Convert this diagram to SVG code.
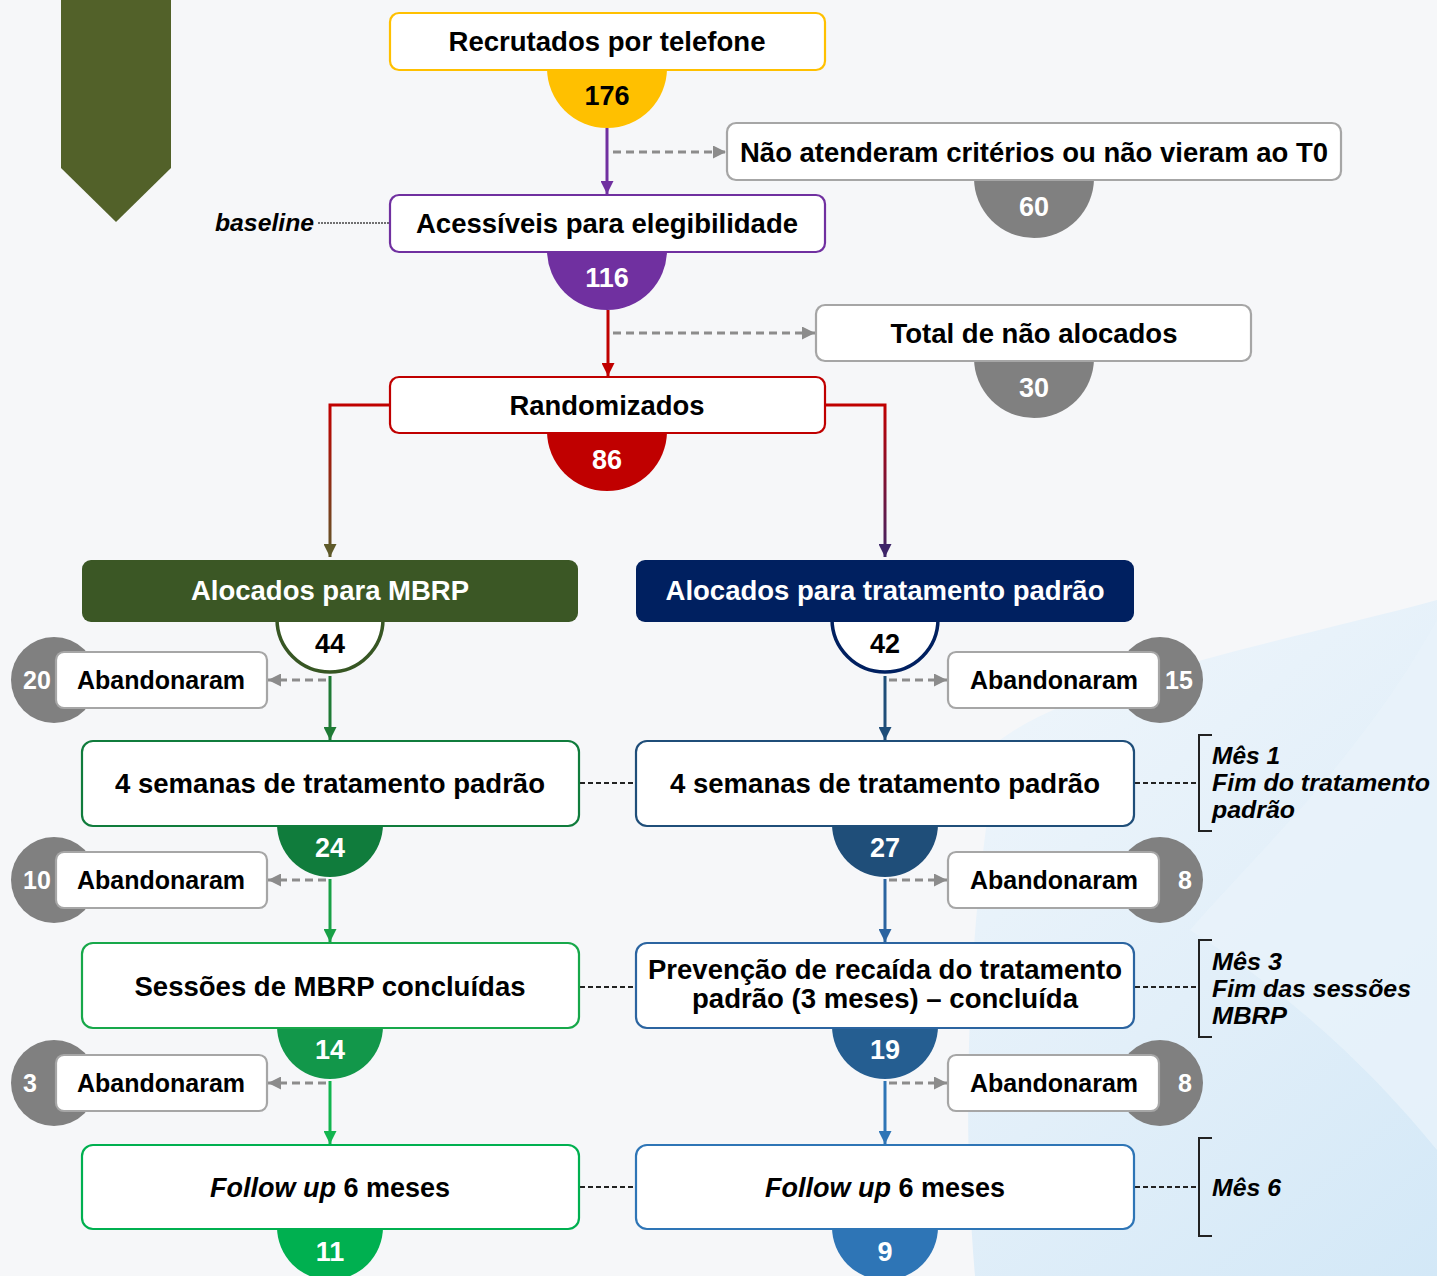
<svg xmlns="http://www.w3.org/2000/svg" width="1437" height="1276" viewBox="0 0 1437 1276">
<style>
text{font-family:"Liberation Sans",Arial,sans-serif;font-weight:bold;fill:#000;}
.lbl{font-size:27px;text-anchor:middle;}
.w{fill:#fff;}
.num{font-size:27px;text-anchor:middle;}
.ab{font-size:25px;text-anchor:middle;}
.note{font-size:24px;font-style:italic;}
.box{fill:#fff;stroke-width:2.2;}
.gbox{fill:#fff;stroke:#a6a6a6;stroke-width:2.2;}
.gc{fill:#808080;}
.dash{fill:none;stroke:#8c8c8c;stroke-width:3;stroke-dasharray:8 5;}
.bdash{fill:none;stroke:#222;stroke-width:1.8;stroke-dasharray:5 3;}
.brk{fill:none;stroke:#222;stroke-width:2;}
</style>
<defs>
<marker id="mP" viewBox="0 0 10 10" refX="10" refY="5" markerUnits="userSpaceOnUse" markerWidth="13" markerHeight="13" orient="auto"><path d="M0,0 L10,5 L0,10 z" fill="#7030a0"/></marker>
<marker id="mR" viewBox="0 0 10 10" refX="10" refY="5" markerUnits="userSpaceOnUse" markerWidth="13" markerHeight="13" orient="auto"><path d="M0,0 L10,5 L0,10 z" fill="#c00000"/></marker>
<marker id="mGr" viewBox="0 0 10 10" refX="10" refY="5" markerUnits="userSpaceOnUse" markerWidth="13" markerHeight="13" orient="auto"><path d="M0,0 L10,5 L0,10 z" fill="#8c8c8c"/></marker>
<marker id="mOl" viewBox="0 0 10 10" refX="10" refY="5" markerUnits="userSpaceOnUse" markerWidth="13" markerHeight="13" orient="auto"><path d="M0,0 L10,5 L0,10 z" fill="#5e5a2a"/></marker>
<marker id="mVi" viewBox="0 0 10 10" refX="10" refY="5" markerUnits="userSpaceOnUse" markerWidth="13" markerHeight="13" orient="auto"><path d="M0,0 L10,5 L0,10 z" fill="#3d2468"/></marker>
<marker id="mG1" viewBox="0 0 10 10" refX="10" refY="5" markerUnits="userSpaceOnUse" markerWidth="13" markerHeight="13" orient="auto"><path d="M0,0 L10,5 L0,10 z" fill="#1f7a35"/></marker>
<marker id="mG2" viewBox="0 0 10 10" refX="10" refY="5" markerUnits="userSpaceOnUse" markerWidth="13" markerHeight="13" orient="auto"><path d="M0,0 L10,5 L0,10 z" fill="#18a046"/></marker>
<marker id="mG3" viewBox="0 0 10 10" refX="10" refY="5" markerUnits="userSpaceOnUse" markerWidth="13" markerHeight="13" orient="auto"><path d="M0,0 L10,5 L0,10 z" fill="#12b54f"/></marker>
<marker id="mB1" viewBox="0 0 10 10" refX="10" refY="5" markerUnits="userSpaceOnUse" markerWidth="13" markerHeight="13" orient="auto"><path d="M0,0 L10,5 L0,10 z" fill="#1f4e79"/></marker>
<marker id="mB2" viewBox="0 0 10 10" refX="10" refY="5" markerUnits="userSpaceOnUse" markerWidth="13" markerHeight="13" orient="auto"><path d="M0,0 L10,5 L0,10 z" fill="#2b64a0"/></marker>
<marker id="mB3" viewBox="0 0 10 10" refX="10" refY="5" markerUnits="userSpaceOnUse" markerWidth="13" markerHeight="13" orient="auto"><path d="M0,0 L10,5 L0,10 z" fill="#2e75b6"/></marker>
<linearGradient id="gL" gradientUnits="userSpaceOnUse" x1="0" y1="405" x2="0" y2="558"><stop offset="0" stop-color="#c00000"/><stop offset="1" stop-color="#5e5a2a"/></linearGradient>
<linearGradient id="gRt" gradientUnits="userSpaceOnUse" x1="0" y1="405" x2="0" y2="558"><stop offset="0" stop-color="#c00000"/><stop offset="1" stop-color="#3d2468"/></linearGradient>
<linearGradient id="bg" gradientUnits="userSpaceOnUse" x1="960" y1="700" x2="1437" y2="1276"><stop offset="0" stop-color="#eef5fb"/><stop offset="0.5" stop-color="#e2eff9"/><stop offset="1" stop-color="#d3e8f7"/></linearGradient>
</defs>

<rect x="0" y="0" width="1437" height="1276" fill="#f6f7f9"/>
<path d="M1437 600 C1290 640 1080 680 1000 740 C970 900 960 1100 975 1276 L1437 1276 Z" fill="url(#bg)"/>
<path d="M1437 620 C1360 760 1250 860 1190 930 C1300 1000 1380 1080 1437 1150 Z" fill="#e8f2fa" opacity="0.8"/>

<polygon id="banner" points="61,0 171,0 171,168 116,222 61,168" fill="#526129"/>

<g id="connectors">
<line x1="607" y1="128" x2="607" y2="194" stroke="#7030a0" stroke-width="3" marker-end="url(#mP)"/>
<line x1="613" y1="152" x2="726" y2="152" class="dash" marker-end="url(#mGr)"/>
<line x1="608" y1="310" x2="608" y2="376" stroke="#c00000" stroke-width="3" marker-end="url(#mR)"/>
<line x1="613" y1="333" x2="815" y2="333" class="dash" marker-end="url(#mGr)"/>
<path d="M390 405 H330 V557" fill="none" stroke="url(#gL)" stroke-width="3" marker-end="url(#mOl)"/>
<path d="M825 405 H885 V557" fill="none" stroke="url(#gRt)" stroke-width="3" marker-end="url(#mVi)"/>
<line x1="318" y1="223" x2="390" y2="223" stroke="#444" stroke-width="1.3" stroke-dasharray="2 1"/>
<line x1="330" y1="676" x2="330" y2="740" stroke="#1f7a35" stroke-width="3" marker-end="url(#mG1)"/>
<line x1="330" y1="879" x2="330" y2="942" stroke="#18a046" stroke-width="3" marker-end="url(#mG2)"/>
<line x1="330" y1="1081" x2="330" y2="1144" stroke="#12b54f" stroke-width="3" marker-end="url(#mG3)"/>
<line x1="326" y1="680" x2="268" y2="680" class="dash" marker-end="url(#mGr)"/>
<line x1="326" y1="880" x2="268" y2="880" class="dash" marker-end="url(#mGr)"/>
<line x1="326" y1="1083" x2="268" y2="1083" class="dash" marker-end="url(#mGr)"/>
<line x1="885" y1="676" x2="885" y2="740" stroke="#1f4e79" stroke-width="3" marker-end="url(#mB1)"/>
<line x1="885" y1="879" x2="885" y2="942" stroke="#2b64a0" stroke-width="3" marker-end="url(#mB2)"/>
<line x1="885" y1="1081" x2="885" y2="1144" stroke="#2e75b6" stroke-width="3" marker-end="url(#mB3)"/>
<line x1="889" y1="680" x2="947" y2="680" class="dash" marker-end="url(#mGr)"/>
<line x1="889" y1="880" x2="947" y2="880" class="dash" marker-end="url(#mGr)"/>
<line x1="889" y1="1083" x2="947" y2="1083" class="dash" marker-end="url(#mGr)"/>
<line x1="580" y1="783" x2="636" y2="783" class="bdash"/>
<line x1="580" y1="987" x2="636" y2="987" class="bdash"/>
<line x1="580" y1="1187" x2="636" y2="1187" class="bdash"/>
<line x1="1135" y1="783" x2="1198" y2="783" class="bdash"/>
<line x1="1135" y1="987" x2="1198" y2="987" class="bdash"/>
<line x1="1135" y1="1187" x2="1198" y2="1187" class="bdash"/>
</g>

<g id="n-recrutados">
<path d="M547 68 A60 60 0 0 0 667 68 Z" fill="#ffc000"/>
<rect x="390" y="13" width="435" height="57" rx="9" class="box" stroke="#ffc000"/>
<text x="607" y="51" class="lbl" textLength="317" lengthAdjust="spacingAndGlyphs">Recrutados por telefone</text>
<text x="607" y="105" class="num">176</text>
</g>

<g id="n-naoatenderam">
<path d="M974 178 A60 60 0 0 0 1094 178 Z" class="gc"/>
<rect x="727" y="123" width="614" height="57" rx="9" class="gbox" stroke="#9a9a9a"/>
<text x="1034" y="162" class="lbl" textLength="588" lengthAdjust="spacingAndGlyphs">Não atenderam critérios ou não vieram ao T0</text>
<text x="1034" y="216" class="num w">60</text>
</g>

<g id="n-acessiveis">
<path d="M547 250 A60 60 0 0 0 667 250 Z" fill="#7030a0"/>
<rect x="390" y="195" width="435" height="57" rx="9" class="box" stroke="#7030a0"/>
<text x="607" y="233" class="lbl" textLength="382" lengthAdjust="spacingAndGlyphs">Acessíveis para elegibilidade</text>
<text x="607" y="287" class="num w">116</text>
</g>

<g id="n-baseline">
<text x="215" y="231" font-size="24" font-style="italic" textLength="99" lengthAdjust="spacingAndGlyphs">baseline</text>
</g>

<g id="n-naoalocados">
<path d="M974 358 A60 60 0 0 0 1094 358 Z" class="gc"/>
<rect x="816" y="305" width="435" height="56" rx="9" class="gbox" stroke="#9a9a9a"/>
<text x="1034" y="343" class="lbl" textLength="287" lengthAdjust="spacingAndGlyphs">Total de não alocados</text>
<text x="1034" y="397" class="num w">30</text>
</g>

<g id="n-randomizados">
<path d="M547 431 A60 60 0 0 0 667 431 Z" fill="#c00000"/>
<rect x="390" y="377" width="435" height="56" rx="9" class="box" stroke="#c00000"/>
<text x="607" y="415" class="lbl" textLength="195" lengthAdjust="spacingAndGlyphs">Randomizados</text>
<text x="607" y="469" class="num w">86</text>
</g>

<g id="n-mbrp">
<path d="M277 619 A53 53 0 0 0 383 619 Z" fill="#fff" stroke="#375623" stroke-width="3.5"/>
<rect x="82" y="560" width="496" height="62" rx="9" fill="#3b5725"/>
<text x="330" y="600" class="lbl w" textLength="278" lengthAdjust="spacingAndGlyphs">Alocados para MBRP</text>
<text x="330" y="653" class="num">44</text>
</g>

<g id="n-padrao">
<path d="M832 619 A53 53 0 0 0 938 619 Z" fill="#fff" stroke="#002060" stroke-width="3.5"/>
<rect x="636" y="560" width="498" height="62" rx="9" fill="#002060"/>
<text x="885" y="600" class="lbl w" textLength="439" lengthAdjust="spacingAndGlyphs">Alocados para tratamento padrão</text>
<text x="885" y="653" class="num">42</text>
</g>

<g id="n-ab-l1">
<circle cx="54" cy="680" r="43" class="gc"/>
<rect x="56" y="652" width="211" height="56" rx="8" class="gbox"/>
<text x="161" y="689" class="ab">Abandonaram</text>
<text x="37" y="689" class="ab w">20</text>
</g>
<g id="n-ab-l2">
<circle cx="54" cy="880" r="43" class="gc"/>
<rect x="56" y="852" width="211" height="56" rx="8" class="gbox"/>
<text x="161" y="889" class="ab">Abandonaram</text>
<text x="37" y="889" class="ab w">10</text>
</g>
<g id="n-ab-l3">
<circle cx="54" cy="1083" r="43" class="gc"/>
<rect x="56" y="1055" width="211" height="56" rx="8" class="gbox"/>
<text x="161" y="1092" class="ab">Abandonaram</text>
<text x="30" y="1092" class="ab w">3</text>
</g>

<g id="n-ab-r1">
<circle cx="1160" cy="680" r="43" class="gc"/>
<rect x="948" y="652" width="211" height="56" rx="8" class="gbox"/>
<text x="1054" y="689" class="ab">Abandonaram</text>
<text x="1179" y="689" class="ab w">15</text>
</g>
<g id="n-ab-r2">
<circle cx="1160" cy="880" r="43" class="gc"/>
<rect x="948" y="852" width="211" height="56" rx="8" class="gbox"/>
<text x="1054" y="889" class="ab">Abandonaram</text>
<text x="1185" y="889" class="ab w">8</text>
</g>
<g id="n-ab-r3">
<circle cx="1160" cy="1083" r="43" class="gc"/>
<rect x="948" y="1055" width="211" height="56" rx="8" class="gbox"/>
<text x="1054" y="1092" class="ab">Abandonaram</text>
<text x="1185" y="1092" class="ab w">8</text>
</g>

<g id="n-l-4sem">
<path d="M277 824 A53 53 0 0 0 383 824 Z" fill="#107c3c"/>
<rect x="82" y="741" width="497" height="85" rx="11" class="box" stroke="#107c3c"/>
<text x="330" y="793" class="lbl" textLength="430" lengthAdjust="spacingAndGlyphs">4 semanas de tratamento padrão</text>
<text x="330" y="857" class="num w">24</text>
</g>
<g id="n-l-sessoes">
<path d="M277 1026 A53 53 0 0 0 383 1026 Z" fill="#12974a"/>
<rect x="82" y="943" width="497" height="85" rx="11" class="box" stroke="#17a84a"/>
<text x="330" y="996" class="lbl" textLength="391" lengthAdjust="spacingAndGlyphs">Sessões de MBRP concluídas</text>
<text x="330" y="1059" class="num w">14</text>
</g>
<g id="n-l-follow">
<path d="M277 1227 A53 53 0 0 0 383 1227 Z" fill="#00b050"/>
<rect x="82" y="1145" width="497" height="84" rx="11" class="box" stroke="#00b050"/>
<text x="330" y="1197" class="lbl"><tspan font-style="italic">Follow up</tspan> 6 meses</text>
<text x="330" y="1261" class="num w">11</text>
</g>

<g id="n-r-4sem">
<path d="M832 824 A53 53 0 0 0 938 824 Z" fill="#1f4e79"/>
<rect x="636" y="741" width="498" height="85" rx="11" class="box" stroke="#1f4e79"/>
<text x="885" y="793" class="lbl" textLength="430" lengthAdjust="spacingAndGlyphs">4 semanas de tratamento padrão</text>
<text x="885" y="857" class="num w">27</text>
</g>
<g id="n-r-prevencao">
<path d="M832 1026 A53 53 0 0 0 938 1026 Z" fill="#255e91"/>
<rect x="636" y="943" width="498" height="85" rx="11" class="box" stroke="#2b64a0"/>
<text x="885" y="979" class="lbl" textLength="474" lengthAdjust="spacingAndGlyphs">Prevenção de recaída do tratamento</text>
<text x="885" y="1008" class="lbl" textLength="386" lengthAdjust="spacingAndGlyphs">padrão (3 meses) – concluída</text>
<text x="885" y="1059" class="num w">19</text>
</g>
<g id="n-r-follow">
<path d="M832 1227 A53 53 0 0 0 938 1227 Z" fill="#2e75b6"/>
<rect x="636" y="1145" width="498" height="84" rx="11" class="box" stroke="#2e75b6"/>
<text x="885" y="1197" class="lbl"><tspan font-style="italic">Follow up</tspan> 6 meses</text>
<text x="885" y="1261" class="num w">9</text>
</g>

<g id="n-mes1">
<path d="M1212 735 H1199 V831 H1212" class="brk"/>
<text x="1212" y="764" class="note" textLength="68" lengthAdjust="spacingAndGlyphs">Mês 1</text>
<text x="1212" y="791" class="note" textLength="218" lengthAdjust="spacingAndGlyphs">Fim do tratamento</text>
<text x="1212" y="818" class="note" textLength="83" lengthAdjust="spacingAndGlyphs">padrão</text>
</g>
<g id="n-mes3">
<path d="M1212 940 H1199 V1037 H1212" class="brk"/>
<text x="1212" y="970" class="note" textLength="70" lengthAdjust="spacingAndGlyphs">Mês 3</text>
<text x="1212" y="997" class="note" textLength="199" lengthAdjust="spacingAndGlyphs">Fim das sessões</text>
<text x="1212" y="1024" class="note" textLength="75" lengthAdjust="spacingAndGlyphs">MBRP</text>
</g>
<g id="n-mes6">
<path d="M1212 1138 H1199 V1236 H1212" class="brk"/>
<text x="1212" y="1196" class="note" textLength="69" lengthAdjust="spacingAndGlyphs">Mês 6</text>
</g>
</svg>
